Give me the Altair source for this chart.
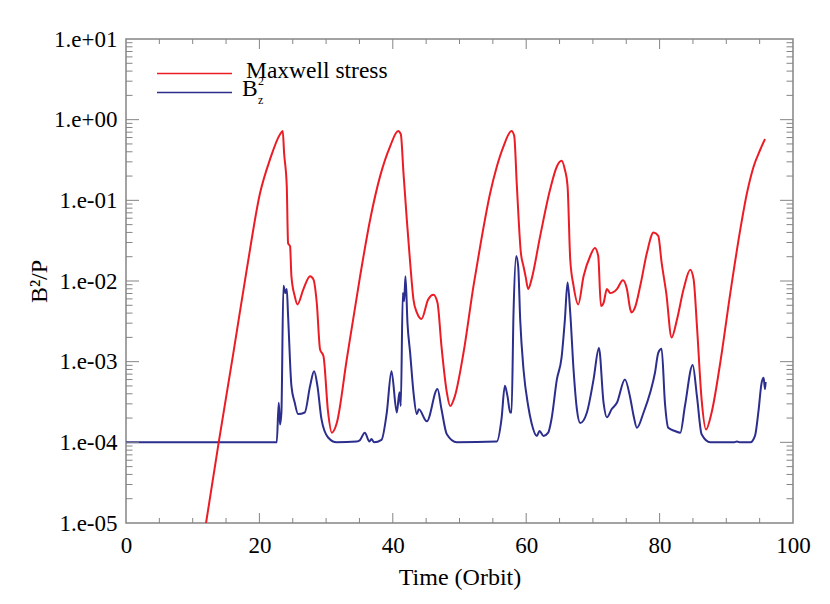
import altair as alt
import pandas as pd

# ---------------- data ----------------
# Maxwell stress: time (orbit) and log10(B^2/P)
red_t = [12.0, 13.9, 16.1, 18.1, 20.1, 21.6, 23.1, 23.5, 23.7, 24.1, 24.3, 24.6, 24.8,
         25.3, 25.7, 26.6, 27.6, 28.1, 28.6, 29.1, 29.6, 30.3, 30.85, 31.6, 33.1, 35.1,
         36.6, 38.1, 39.6, 40.8, 41.2, 41.6, 42.1, 42.6, 43.1, 43.6, 44.3, 45.3, 46.1,
         46.7, 47.3, 48.1, 48.6, 49.3, 50.6, 52.1, 53.1, 54.6, 55.6, 56.6, 57.8, 58.2,
         58.6, 59.2, 59.6, 59.9, 60.3, 60.8, 62.1, 63.6, 64.6, 65.3, 65.8, 66.2, 66.6,
         67.1, 67.8, 68.6, 69.6, 70.3, 70.8, 71.2, 71.6, 72.1, 72.6, 73.6, 74.5, 75.1,
         75.6, 75.8, 76.3, 77.1, 78.1, 79.1, 79.8, 80.3, 81.0, 81.8, 82.6, 83.6, 84.6,
         85.1, 85.6, 86.3, 86.96, 87.8, 89.1, 90.6, 92.1, 93.1, 94.1, 95.1, 95.8]
red_log = [-5.0, -4.0, -2.89, -1.86, -0.91, -0.49, -0.18, -0.14, -0.41, -0.82, -1.53, -1.57, -1.94,
           -2.19, -2.29, -2.10, -1.94, -1.98, -2.27, -2.85, -2.93, -3.63, -3.88, -3.76, -2.97, -1.94,
           -1.24, -0.70, -0.33, -0.14, -0.18, -0.66, -1.24, -1.77, -2.23, -2.39, -2.47, -2.23, -2.17,
           -2.27, -2.81, -3.38, -3.55, -3.43, -2.89, -2.06, -1.57, -0.91, -0.58, -0.33, -0.14, -0.20,
           -0.82, -1.65, -1.82, -1.94, -2.10, -1.98, -1.44, -0.86, -0.58, -0.51, -0.62, -0.82, -1.73,
           -2.06, -2.29, -1.94, -1.69, -1.59, -1.69, -2.31, -2.27, -2.10, -2.15, -2.10, -1.99, -2.10,
           -2.35, -2.39, -2.33, -2.06, -1.65, -1.40, -1.44, -1.77, -2.15, -2.70, -2.48, -2.10, -1.86,
           -1.98, -2.56, -3.47, -3.84, -3.63, -3.01, -2.15, -1.36, -0.91, -0.58, -0.37, -0.24]

# B_z^2: time (orbit) and log10(B^2/P)
blue_t = [0.0, 22.6, 22.9, 23.1, 23.3, 23.6, 23.9, 24.1, 24.3, 24.8, 25.3, 25.8, 26.8, 27.6,
          28.2, 28.7, 29.3, 30.3, 31.6, 34.6, 35.1, 35.8, 36.5, 36.8, 37.2, 38.3, 39.1, 39.8,
          40.6, 41.0, 41.2, 41.5, 41.7, 41.9, 42.2, 42.6, 43.1, 43.6, 43.9, 45.1, 46.7, 47.3,
          48.1, 49.6, 55.6, 56.3, 56.8, 57.2, 57.6, 57.8, 58.1, 58.5, 58.8, 59.1, 59.6, 60.3,
          60.8, 61.6, 62.0, 62.6, 63.3, 63.8, 64.6, 65.3, 65.8, 66.2, 66.6, 67.1, 67.6, 68.1,
          69.1, 70.1, 70.9, 71.6, 72.1, 72.8, 73.6, 74.8, 75.6, 76.1, 76.6, 77.6, 78.6, 79.3,
          79.8, 80.3, 80.8, 81.3, 82.3, 83.1, 83.8, 84.96, 85.6, 86.3, 87.6, 91.2, 91.6, 92.0,
          93.6, 94.3, 94.8, 95.3, 95.6, 95.8, 95.9]
blue_log = [-4.0, -4.0, -3.51, -3.78, -3.63, -2.06, -2.15, -2.10, -2.43, -3.30, -3.51, -3.65, -3.63, -3.30,
            -3.12, -3.30, -3.71, -3.94, -4.0, -3.99, -3.97, -3.88, -3.99, -3.96, -4.0, -3.97, -3.63, -3.12,
            -3.63, -3.38, -3.55, -2.15, -2.25, -1.94, -2.52, -2.89, -3.38, -3.65, -3.59, -3.74, -3.34, -3.59,
            -3.90, -4.0, -3.99, -3.71, -3.30, -3.43, -3.63, -3.63, -2.39, -1.69, -1.82, -2.48, -3.10, -3.55,
            -3.76, -3.92, -3.86, -3.92, -3.88, -3.71, -3.22, -2.95, -2.48, -2.02, -2.39, -3.10, -3.59, -3.76,
            -3.63, -3.22, -2.83, -3.51, -3.69, -3.59, -3.51, -3.22, -3.45, -3.67, -3.82, -3.63, -3.38, -3.14,
            -2.89, -2.84, -3.51, -3.82, -3.86, -3.88, -3.55, -3.04, -3.43, -3.90, -4.0, -4.0, -3.99, -4.0,
            -4.0, -3.92, -3.63, -3.26, -3.20, -3.34, -3.25]

series_names = ["Maxwell stress", "B"]
series_colors = ["#ec1c24", "#2b2e8c"]
legend_sup = "2"
legend_sub = "z"

x_major = [0, 20, 40, 60, 80, 100]
x_minor = [5, 10, 15, 25, 30, 35, 45, 50, 55, 65, 70, 75, 85, 90, 95]
y_major = [1e-5, 1e-4, 1e-3, 1e-2, 1e-1, 1e0, 1e1]
y_tick_labels = ["1.e-05", "1.e-04", "1.e-03", "1.e-02", "1.e-01", "1.e+00", "1.e+01"]
y_minor = [m * 10.0 ** k for k in range(-5, 1) for m in range(2, 10)]

x_title = "Time (Orbit)"
y_title = "B²/P"

# ---------------- layout ----------------
W, H = 667, 484
GRAY = "#858585"
FONT = "Liberation Serif"

red_df = pd.DataFrame({"t": red_t, "v": [10.0 ** e for e in red_log]})
blue_df = pd.DataFrame({"t": blue_t, "v": [10.0 ** e for e in blue_log]})

label_expr = "[" + ",".join("'%s'" % s for s in y_tick_labels) + "][round(log(datum.value)/LN10)+5]"

xscale = alt.Scale(domain=[0, 100], nice=False, zero=False)
yscale = alt.Scale(type="log", domain=[1e-5, 10], nice=False)

xaxis = alt.Axis(values=x_major, format="d", labelPadding=11, tickSize=0, ticks=False,
                 labelFlush=False, domain=False, grid=False, titleY=61,
                 titleBaseline="alphabetic")
yaxis = alt.Axis(values=y_major, labelExpr=label_expr, labelPadding=9, tickSize=0, ticks=False,
                 labelFlush=False, domain=False, grid=False, titleX=-80, titleY=242,
                 titleAngle=270, titleAlign="center", titleBaseline="alphabetic")


def X():
    return alt.X("t:Q", scale=xscale, axis=xaxis, title=x_title)


def Y():
    return alt.Y("v:Q", scale=yscale, axis=yaxis, title=y_title)


blue_line = alt.Chart(blue_df).mark_line(
    color=series_colors[1], strokeWidth=2, clip=True, interpolate="monotone"
).encode(x=X(), y=Y())
red_line = alt.Chart(red_df).mark_line(
    color=series_colors[0], strokeWidth=2, clip=True, interpolate="monotone"
).encode(x=X(), y=Y())

xmaj_df = pd.DataFrame({"t": x_major[1:-1]})
xmin_df = pd.DataFrame({"t": x_minor})
ymaj_df = pd.DataFrame({"v": y_major[1:-1]})
ymin_df = pd.DataFrame({"v": y_minor})

tick_layers = []
for df, ln in [(xmaj_df, 10), (xmin_df, 5)]:
    tick_layers.append(alt.Chart(df).mark_rule(color=GRAY, strokeWidth=1).encode(
        x=X(), y=alt.value(H), y2=alt.value(H - ln)))
    tick_layers.append(alt.Chart(df).mark_rule(color=GRAY, strokeWidth=1).encode(
        x=X(), y=alt.value(0), y2=alt.value(ln)))
for df, ln in [(ymaj_df, 13), (ymin_df, 6.5)]:
    tick_layers.append(alt.Chart(df).mark_rule(color=GRAY, strokeWidth=1).encode(
        y=Y(), x=alt.value(0), x2=alt.value(ln)))
    tick_layers.append(alt.Chart(df).mark_rule(color=GRAY, strokeWidth=1).encode(
        y=Y(), x=alt.value(W - ln), x2=alt.value(W)))

one = pd.DataFrame({"a": [0]})
leg_red = alt.Chart(one).mark_rule(color=series_colors[0], strokeWidth=1.5).encode(
    x=alt.value(31), x2=alt.value(106), y=alt.value(34.5))
leg_blue = alt.Chart(one).mark_rule(color=series_colors[1], strokeWidth=1.5).encode(
    x=alt.value(31), x2=alt.value(106), y=alt.value(53.5))


def txt(s, x, y, size):
    return alt.Chart(pd.DataFrame({"label": [s]})).mark_text(
        align="left", baseline="alphabetic", font=FONT, fontSize=size, color="black"
    ).encode(text="label:N", x=alt.value(x), y=alt.value(y))


leg_t1 = txt(series_names[0], 120, 38.5, 23.5)
leg_t2 = txt(series_names[1], 116, 56.5, 23.5)
leg_sup = txt(legend_sup, 132, 45.5, 12)
leg_sub = txt(legend_sub, 132, 64.5, 12)

chart = alt.layer(
    blue_line, red_line, *tick_layers, leg_red, leg_blue, leg_t1, leg_t2, leg_sup, leg_sub
).properties(
    width=W, height=H,
    autosize=alt.AutoSizeParams(type="none"),
    padding={"left": 118, "top": 31, "right": 28, "bottom": 70},
).configure_view(
    stroke=GRAY, strokeWidth=1.5
).configure_axis(
    labelFont=FONT, labelFontSize=23, labelColor="black",
    titleFont=FONT, titleFontSize=24, titleFontWeight="normal", titleColor="black",
)

chart.save("out.html", embed_options={"renderer": "svg", "actions": False})
